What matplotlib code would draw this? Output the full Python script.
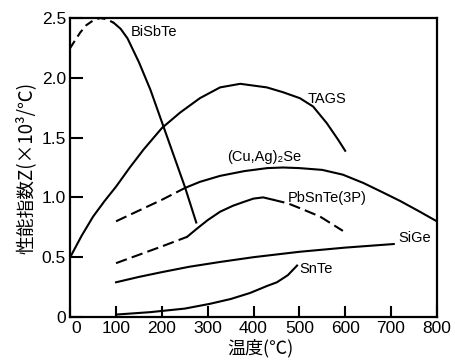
import matplotlib.pyplot as plt
import matplotlib.transforms as mtransforms

plt.rcParams['font.family'] = ['Liberation Sans', 'DejaVu Sans']

# BiSbTe: dashed start, then solid fall
bisbte_dash_x = [0, 10, 22, 35, 50, 65, 80, 95]
bisbte_dash_y = [2.25, 2.31, 2.38, 2.44, 2.48, 2.50, 2.49, 2.46]
bisbte_x = [95, 110, 125, 150, 175, 200, 225, 250, 275]
bisbte_y = [2.46, 2.41, 2.33, 2.13, 1.90, 1.63, 1.36, 1.09, 0.79]

tags_x = [0, 25, 50, 75, 100, 130, 160, 200, 240, 283, 327, 371, 429, 464, 501, 530, 560, 585, 600]
tags_y = [0.50, 0.68, 0.84, 0.97, 1.09, 1.25, 1.40, 1.58, 1.71, 1.83, 1.92, 1.95, 1.92, 1.88, 1.83, 1.76, 1.62, 1.48, 1.39]

cuagse_dash_x = [100, 150, 200, 251]
cuagse_dash_y = [0.80, 0.89, 0.98, 1.08]
cuagse_x = [251, 283, 327, 380, 430, 464, 500, 550, 595, 640, 683, 720, 763, 800]
cuagse_y = [1.08, 1.13, 1.18, 1.22, 1.245, 1.25, 1.245, 1.23, 1.19, 1.12, 1.04, 0.97, 0.88, 0.80]

pbsnte_dash1_x = [100, 150, 200, 255]
pbsnte_dash1_y = [0.45, 0.52, 0.59, 0.67]
pbsnte_x = [255, 277, 300, 327, 355, 377, 400, 421, 443]
pbsnte_y = [0.67, 0.74, 0.81, 0.88, 0.93, 0.96, 0.99, 1.00, 0.98]
pbsnte_dash2_x = [443, 475, 501, 545, 595]
pbsnte_dash2_y = [0.98, 0.95, 0.91, 0.84, 0.72]

sige_x = [100, 150, 200, 260, 327, 400, 500, 600, 706]
sige_y = [0.29, 0.335, 0.375, 0.42, 0.46, 0.50, 0.545, 0.58, 0.61]

snte_x = [100, 174, 250, 305, 350, 392, 430, 451, 475, 495]
snte_y = [0.02, 0.04, 0.07, 0.11, 0.15, 0.20, 0.26, 0.29, 0.35, 0.43]

xticks = [0, 100, 200, 300, 400, 500, 600, 700, 800]
yticks = [0, 0.5, 1.0, 1.5, 2.0, 2.5]
ytick_labels = ['0', '0.5', '1.0', '1.5', '2.0', '2.5']

fig = plt.figure(figsize=(4.56, 3.61), dpi=100)
ax = fig.add_axes([0.154, 0.122, 0.804, 0.828])

lw = 1.5
dash_long = (5.5, 2.5)
dash_short = (4, 2.5)

ax.plot(bisbte_dash_x, bisbte_dash_y, color='k', lw=lw, dashes=dash_short)
ax.plot(bisbte_x, bisbte_y, color='k', lw=lw)
ax.plot(tags_x, tags_y, color='k', lw=lw)
ax.plot(cuagse_dash_x, cuagse_dash_y, color='k', lw=lw, dashes=dash_long)
ax.plot(cuagse_x, cuagse_y, color='k', lw=lw)
ax.plot(pbsnte_dash1_x, pbsnte_dash1_y, color='k', lw=lw, dashes=dash_long)
ax.plot(pbsnte_x, pbsnte_y, color='k', lw=lw)
ax.plot(pbsnte_dash2_x, pbsnte_dash2_y, color='k', lw=lw, dashes=dash_long)
ax.plot(sige_x, sige_y, color='k', lw=lw)
ax.plot(snte_x, snte_y, color='k', lw=lw)

fs = 10.5
ax.text(133, 2.38, 'BiSbTe', fontsize=fs, va='center')
ax.text(517, 1.82, 'TAGS', fontsize=fs, va='center')
ax.text(342, 1.34, '(Cu,Ag)₂Se', fontsize=fs, va='center')
ax.text(475, 0.995, 'PbSnTe(3P)', fontsize=fs, va='center')
ax.text(715, 0.66, 'SiGe', fontsize=fs, va='center')
ax.text(501, 0.40, 'SnTe', fontsize=fs, va='center')

ax.set_xlim(0, 800)
ax.set_ylim(0, 2.5)
ax.set_xticks(xticks)
ax.set_xticklabels([str(x) for x in xticks])
ax.set_yticks(yticks)
ax.set_yticklabels(ytick_labels)
ax.tick_params(axis='both', direction='in', width=1.5, labelsize=12.5, pad=3)
ax.tick_params(axis='y', length=9)
ax.tick_params(axis='x', length=8)
for s in ax.spines.values():
    s.set_linewidth(1.6)

# nudge the x "0" label right, like the original
off = mtransforms.ScaledTranslation(6 / 100, 0, fig.dpi_scale_trans)
lbl0 = ax.get_xticklabels()[0]
lbl0.set_transform(lbl0.get_transform() + off)

cjk = ['Noto Sans CJK JP', 'DejaVu Sans']
ax.set_xlabel('温度(℃)', family=cjk, fontsize=13, labelpad=0)
ax.set_ylabel('性能指数Z(×10³/℃)', family=cjk, fontsize=13.5, labelpad=4)
ax.xaxis.set_label_coords(0.52, -0.075)

fig.savefig('out.png', dpi=100, facecolor='white')
